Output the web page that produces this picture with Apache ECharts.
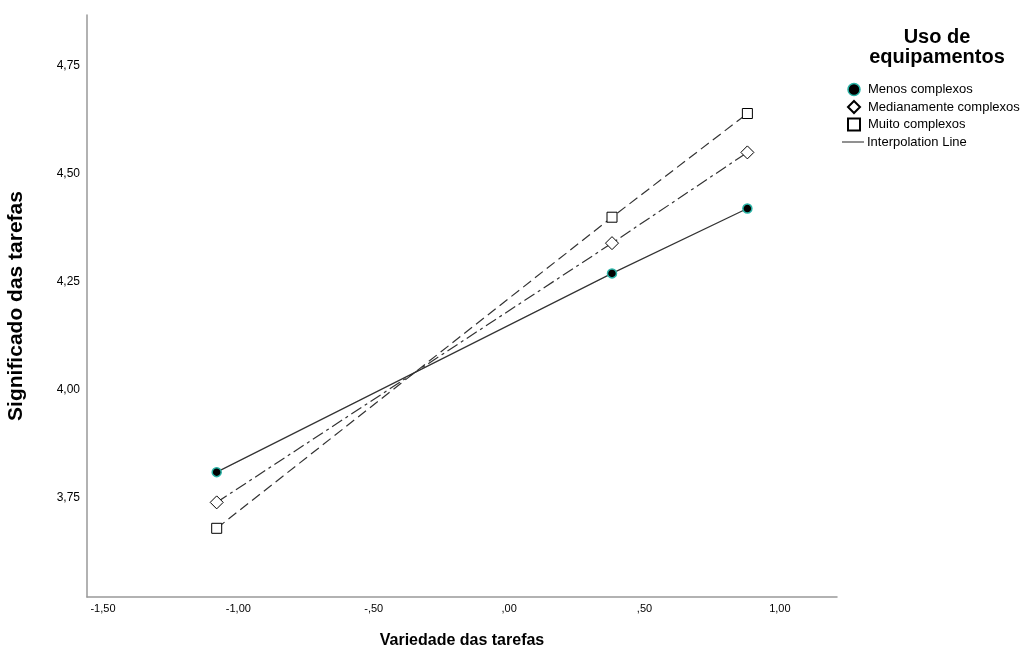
<!DOCTYPE html>
<html>
<head>
<meta charset="utf-8">
<script src="https://cdn.jsdelivr.net/npm/echarts@6/dist/echarts.min.js"></script>
<style>html,body{margin:0;padding:0;background:#fff}#c{width:1035px;height:655px}</style>
</head>
<body>
<div id="c"></div>
<script>
var seriesNames = ['Menos complexos', 'Medianamente complexos', 'Muito complexos'];
var lineLegendName = 'Interpolation Line';
var xValues = [-1.08, 0.38, 0.88];
var menos = [3.81, 4.27, 4.42];
var medianamente = [3.74, 4.34, 4.55];
var muito = [3.68, 4.40, 4.64];
var xTicks = [-1.5, -1.0, -0.5, 0, 0.5, 1.0];
var yTicks = [3.75, 4.0, 4.25, 4.5, 4.75];

function fmt(v) {
  var s = Math.abs(v).toFixed(2).replace('.', ',');
  if (s.charAt(0) === '0') s = s.slice(1);
  return (v < 0 ? '-' : '') + s;
}
function pts(ys) { return xValues.map(function (x, i) { return [x, ys[i]]; }); }

var chart = echarts.init(document.getElementById('c'));
var font = 'Liberation Sans, Arial, sans-serif';
chart.setOption({
  animation: false,
  backgroundColor: '#fff',
  textStyle: { fontFamily: font },
  title: {
    text: 'Uso de\nequipamentos',
    left: 937, top: 27, textAlign: 'center', padding: 0,
    textStyle: { fontSize: 20, fontWeight: 'bold', color: '#000', lineHeight: 20, fontFamily: font }
  },
  legend: [{
    orient: 'vertical', left: 847, top: 82, padding: 0,
    itemWidth: 12, itemHeight: 12, itemGap: 2.5,
    textStyle: { fontSize: 13, lineHeight: 15, color: '#000', padding: [0, 0, 0, 3], fontFamily: font },
    data: [
      { name: seriesNames[0], icon: 'circle', itemStyle: { borderWidth: 1.5 } },
      { name: seriesNames[1], icon: 'diamond' },
      { name: seriesNames[2], icon: 'rect' }
    ]
  }, {
    orient: 'vertical', left: 842, top: 134.5, padding: 0,
    itemWidth: 22, itemHeight: 12, itemGap: 2.5,
    textStyle: { fontSize: 13, lineHeight: 15, color: '#000', padding: [0, 0, 0, -2], fontFamily: font },
    data: [
      { name: lineLegendName, icon: 'path://M0,0 L22,0 L22,1.3 L0,1.3 Z' }
    ]
  }],
  grid: { left: 87, top: 15, right: 198, bottom: 58, containLabel: false, outerBoundsMode: 'none' },
  xAxis: {
    type: 'value', min: -1.559, max: 1.211,
    name: 'Variedade das tarefas', nameLocation: 'middle', nameGap: 36,
    nameTextStyle: { fontSize: 16, fontWeight: 'bold', color: '#000', fontFamily: font },
    axisLine: { show: true, onZero: false, lineStyle: { color: '#999', width: 1.5 } },
    axisTick: { show: false },
    splitLine: { show: false },
    axisLabel: { customValues: xTicks, formatter: fmt, fontSize: 11, color: '#000', margin: 6, showMinLabel: true, showMaxLabel: true }
  },
  yAxis: {
    type: 'value', min: 3.521, max: 4.868,
    name: 'Significado das tarefas', nameLocation: 'middle', nameGap: 60,
    nameTextStyle: { fontSize: 21, fontWeight: 'bold', color: '#000', fontFamily: font },
    axisLine: { show: true, onZero: false, lineStyle: { color: '#999', width: 1.5 } },
    axisTick: { show: false },
    splitLine: { show: false },
    axisLabel: { customValues: yTicks, formatter: fmt, fontSize: 12, color: '#000', margin: 7 }
  },
  series: [
    {
      name: seriesNames[0], type: 'line', data: pts(menos),
      symbol: 'circle', symbolSize: 9,
      itemStyle: { color: '#000', borderColor: '#2ab3a6', borderWidth: 1.5 },
      lineStyle: { color: '#333', width: 1.2, type: 'solid' }
    },
    {
      name: seriesNames[1], type: 'line', data: pts(medianamente),
      symbol: 'diamond', symbolSize: 13,
      itemStyle: { color: '#fff', borderColor: '#000', borderWidth: 1 },
      lineStyle: { color: '#333', width: 1.2, type: [12, 4, 3, 4] }
    },
    {
      name: seriesNames[2], type: 'line', data: pts(muito),
      symbol: 'rect', symbolSize: 10,
      itemStyle: { color: '#fff', borderColor: '#000', borderWidth: 1 },
      lineStyle: { color: '#333', width: 1.2, type: [10, 5] }
    },
    {
      name: lineLegendName, type: 'line', data: [],
      symbol: 'none',
      itemStyle: { color: '#555' },
      lineStyle: { color: '#555', width: 1.2 }
    }
  ]
});
</script>
</body>
</html>
